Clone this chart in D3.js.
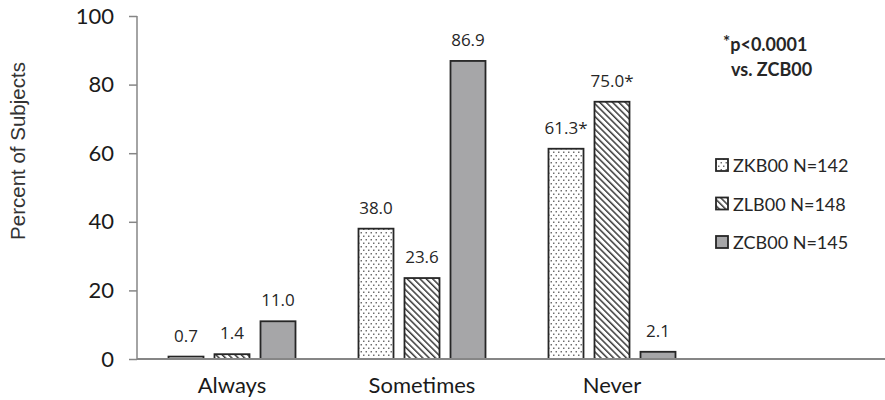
<!DOCTYPE html>
<html><head><meta charset="utf-8">
<script src="https://cdn.jsdelivr.net/npm/d3@7/dist/d3.min.js"></script>
<style>body{margin:0;background:#fff}svg{display:block}</style>
</head><body><svg id="c" width="885" height="400"></svg>
<script>
const categories = ["Always", "Sometimes", "Never"];
const seriesNames = ["ZKB00 N=142", "ZLB00 N=148", "ZCB00 N=145"];
const zkb = [0.7, 38.0, 61.3];
const zlb = [1.4, 23.6, 75.0];
const zcb = [11.0, 86.9, 2.1];
const labelZkb = ["0.7", "38.0", "61.3*"];
const labelZlb = ["1.4", "23.6", "75.0*"];
const labelZcb = ["11.0", "86.9", "2.1"];
const yTicks = [0, 20, 40, 60, 80, 100];

const seriesVals = [zkb, zlb, zcb];
const seriesLabels = [labelZkb, labelZlb, labelZcb];
const svg = d3.select("#c");
const defs = svg.append("defs");

// dotted pattern
const pd = defs.append("pattern").attr("id","dots").attr("patternUnits","userSpaceOnUse").attr("width",5).attr("height",7);
pd.append("rect").attr("width",5).attr("height",7).attr("fill","#fff");
[[1.25,1.75],[3.75,5.25]].forEach(p=>pd.append("rect").attr("x",p[0]-0.7).attr("y",p[1]-0.7).attr("width",1.4).attr("height",1.4).attr("fill","#5e5e5e"));
// diagonal pattern
const ph = defs.append("pattern").attr("id","hatch").attr("patternUnits","userSpaceOnUse").attr("width",4.5).attr("height",4.5).attr("patternTransform","rotate(-45)");
ph.append("rect").attr("width",4.5).attr("height",4.5).attr("fill","#fff");
ph.append("rect").attr("x",0).attr("y",0).attr("width",1.5).attr("height",4.5).attr("fill","#3a3a3a");
const fills = ["url(#dots)", "url(#hatch)", "#a6a6a8"];

const x0 = d3.scaleBand().domain(categories).range([137, 707]);
const x1 = d3.scaleBand().domain(d3.range(3)).range([31.5, 158.5]).paddingInner(11/46).paddingOuter(0);
const y = d3.scaleLinear().domain([0, 100]).range([359, 16]);

// y axis
const yAxis = d3.axisLeft(y).tickValues(yTicks).tickSize(8).tickPadding(15).tickFormat(d3.format("d"));
const gy = svg.append("g").attr("transform","translate(137,0)").call(yAxis);
gy.select(".domain").attr("stroke","#868686").attr("stroke-width",1.5).attr("d","M0,16V359");
gy.selectAll(".tick line").attr("stroke","#868686").attr("stroke-width",1.5);
gy.selectAll(".tick text").attr("font-family","Lato, 'Open Sans', sans-serif").attr("font-size",22).attr("fill","#1a1a1a");

// bars
categories.forEach((c, ci) => {
  seriesVals.forEach((vals, si) => {
    const bx = x0(c) + x1(si);
    svg.append("rect").attr("x", bx).attr("y", y(vals[ci])).attr("width", x1.bandwidth()).attr("height", y(0) - y(vals[ci]))
      .attr("fill", fills[si]).attr("stroke", "#262626").attr("stroke-width", 1.8);
    svg.append("text").attr("x", bx + x1.bandwidth()/2).attr("y", y(vals[ci]) - 15)
      .attr("text-anchor","middle").attr("font-family","'Open Sans', sans-serif").attr("font-size",17).attr("fill","#262626")
      .text(seriesLabels[si][ci]);
  });
});

// x baseline
svg.append("line").attr("x1",137).attr("x2",885).attr("y1",y(0)).attr("y2",y(0)).attr("stroke","#868686").attr("stroke-width",2);
// category labels
svg.selectAll("text.cat").data(categories).enter().append("text").attr("class","cat")
  .attr("x", d => x0(d) + x0.bandwidth()/2).attr("y", 393).attr("text-anchor","middle")
  .attr("font-family","Lato, 'Open Sans', sans-serif").attr("font-size",22).attr("fill","#1a1a1a").text(d => d);

// y title
svg.append("text").attr("transform","translate(25,151) rotate(-90)").attr("text-anchor","middle")
  .attr("font-family","'Liberation Sans', Arial, sans-serif").attr("font-size",20.5).attr("fill","#333").text("Percent of Subjects");

// annotation
const ann = svg.append("text").attr("x",723).attr("y",51).attr("font-family","Lato, 'Open Sans', sans-serif").attr("font-size",18).attr("font-weight","bold").attr("fill","#262626");
ann.append("tspan").attr("font-size",17).attr("dy",-3).text("*");
ann.append("tspan").attr("dy",3).text("p<0.0001");
svg.append("text").attr("x",731).attr("y",76).attr("font-family","Lato, 'Open Sans', sans-serif").attr("font-size",18).attr("font-weight","bold").attr("fill","#262626").text("vs. ZCB00");

// legend
const legY = d3.scalePoint().domain(d3.range(3)).range([165, 242]);
seriesNames.forEach((n, i) => {
  svg.append("rect").attr("x",716).attr("y",legY(i)-6).attr("width",12).attr("height",12).attr("fill",fills[i]).attr("stroke","#262626").attr("stroke-width",1.8);
  svg.append("text").attr("x",733).attr("y",legY(i)+7).attr("font-family","Lato, 'Open Sans', sans-serif").attr("font-size",18).attr("fill","#262626").text(n);
});
</script></body></html>
